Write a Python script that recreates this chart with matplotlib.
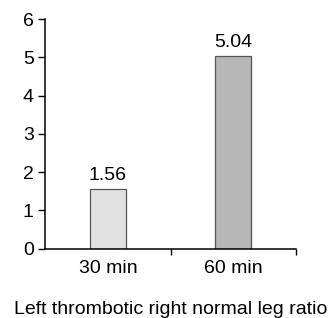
import matplotlib
matplotlib.use("Agg")
import matplotlib.pyplot as plt

categories = ["30 min", "60 min"]
values = [1.56, 5.04]
value_labels = ["1.56", "5.04"]
colors = ["#e2e2e2", "#b8b8b8"]
xlabel = "Left thrombotic right normal leg ratio"

plt.rcParams['font.family'] = ['Liberation Sans', 'DejaVu Sans']
FS = 14

fig = plt.figure(figsize=(3.29, 3.18), dpi=100)
ax = fig.add_axes([0.1377, 0.218, 0.7611, 0.722])

pos = [i + 0.5 for i in range(len(categories))]
bars = ax.bar(pos, values, width=0.282, color=colors, edgecolor="#555555", linewidth=0.9)
for p, v, lab in zip(pos, values, value_labels):
    ax.annotate(lab, (p, v), xytext=(0, 3.5), textcoords="offset points",
                ha="center", va="bottom", fontsize=FS)

ax.set_xlim(0, len(categories))
ax.set_ylim(0, 6)
ax.set_yticks(range(0, 7))
ax.set_xticks(pos)
ax.set_xticklabels(categories)
ax.set_xticks([1, 2], minor=True)
ax.tick_params(axis="x", which="major", length=0, pad=8.5, labelsize=FS)
ax.tick_params(axis="x", which="minor", length=4.5, width=1, direction="out")
ax.tick_params(axis="y", length=4.8, width=1, pad=3.5, labelsize=FS)
for s in ["top", "right"]:
    ax.spines[s].set_visible(False)
for s in ["left", "bottom"]:
    ax.spines[s].set_linewidth(1.1)
ax.set_xlabel(xlabel, fontsize=FS, labelpad=17)

fig.savefig("out.png", dpi=100)
